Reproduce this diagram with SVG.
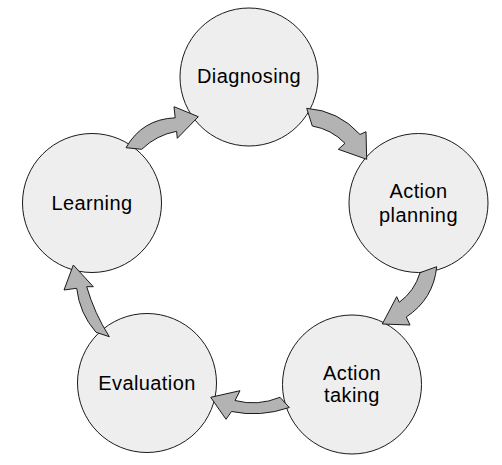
<svg xmlns="http://www.w3.org/2000/svg" width="502" height="465" viewBox="0 0 502 465">
<style>
.node{fill:#eeeeee;stroke:#1a1a1a;stroke-width:1}
.lbl{font-family:"Liberation Sans",Arial,sans-serif;font-size:20px;letter-spacing:0.4px;fill:#000;text-anchor:middle}
.arr{fill:#b3b3b3;stroke:#1a1a1a;stroke-width:1;stroke-linejoin:miter}
</style>
<rect width="502" height="465" fill="#ffffff"/>
<g id="diagnosing"><circle class="node" cx="249" cy="77" r="69"/><text class="lbl" x="249" y="83">Diagnosing</text></g>
<g id="action-planning"><circle class="node" cx="418.5" cy="203" r="69.5"/><text class="lbl" x="418.5" y="198">Action</text><text class="lbl" x="418.5" y="222">planning</text></g>
<g id="action-taking"><circle class="node" cx="352" cy="384.5" r="69.5"/><text class="lbl" x="352" y="380">Action</text><text class="lbl" x="352" y="402">taking</text></g>
<g id="evaluation"><circle class="node" cx="147" cy="383" r="69.5"/><text class="lbl" x="147" y="390">Evaluation</text></g>
<g id="learning"><circle class="node" cx="92" cy="203" r="69.5"/><text class="lbl" x="92" y="210">Learning</text></g>
<g id="connectors">
<path class="arr" d="M306.7,108.3 Q338.6,110.6 360,134.5 L366,131.7 L366.7,159.3 L338.3,149.3 L345,143.3 Q331.5,129.4 312.3,126 Z"/>
<path class="arr" d="M436.7,266.7 Q433.5,299 406.3,317 L410,325 L382.3,324 L396.7,296.7 L399.3,302.3 Q414.6,291 420,272.7 Z"/>
<path class="arr" d="M289.3,407.5 Q260.4,417.5 231.5,411.5 L226,419.3 L210.7,397.3 L240,390.7 L235,400.5 Q257.5,406.5 280,397.3 Z"/>
<path class="arr" d="M96,332.3 Q79.5,313.3 76.7,288.3 L64,290 L73.3,265 L93.3,286.7 L86.7,286.7 Q94.4,313.3 109.3,336.7 Z"/>
<path class="arr" d="M126,147.7 Q142.3,119.1 175.2,117.8 L174,106.7 L198.3,116.7 L177.3,138.3 L176.6,131.3 Q156.5,135 141.7,149.3 Z"/>
</g>
</svg>
